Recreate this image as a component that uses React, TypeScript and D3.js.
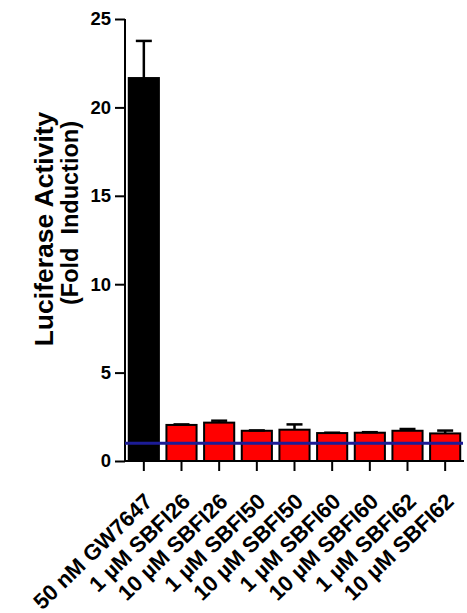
import React, { useRef, useEffect } from "react";
import * as d3 from "d3";

const categories = [
  "50 nM GW7647",
  "1 \u00b5M SBFI26",
  "10 \u00b5M SBFI26",
  "1 \u00b5M SBFI50",
  "10 \u00b5M SBFI50",
  "1 \u00b5M SBFI60",
  "10 \u00b5M SBFI60",
  "1 \u00b5M SBFI62",
  "10 \u00b5M SBFI62",
];
const means = [21.66, 2.04, 2.17, 1.71, 1.77, 1.58, 1.6, 1.71, 1.56];
const errors = [2.1, 0.03, 0.11, 0.02, 0.3, 0.02, 0.03, 0.1, 0.16];
const fills = ["#000000", "#ff0000", "#ff0000", "#ff0000", "#ff0000", "#ff0000", "#ff0000", "#ff0000", "#ff0000"];
const yTicks = [0, 5, 10, 15, 20, 25];
const baseline = 1;

export default function App() {
  const ref = useRef<SVGSVGElement>(null);

  useEffect(() => {
    const width = 467;
    const height = 613;
    const svg = d3.select(ref.current);
    svg.selectAll("*").remove();
    svg.attr("width", width).attr("height", height);

    const font = "'Liberation Sans', Arial, sans-serif";
    const x0 = 125;
    const x1 = 464;
    const y = d3.scaleLinear().domain([0, 25]).range([461, 19]);
    const x = d3
      .scaleBand<string>()
      .domain(categories)
      .range([x0, x1])
      .paddingInner(0.2)
      .paddingOuter(0.1);

    const data = categories.map((c, i) => ({ c, m: means[i], e: errors[i], f: fills[i] }));

    // bars
    svg
      .append("g")
      .selectAll("rect")
      .data(data)
      .join("rect")
      .attr("x", (d) => x(d.c)!)
      .attr("width", x.bandwidth())
      .attr("y", (d) => y(d.m))
      .attr("height", (d) => y(0) - y(d.m))
      .attr("fill", (d) => d.f)
      .attr("stroke", "#000")
      .attr("stroke-width", 2);

    // error bars (upper only)
    const err = svg.append("g").attr("stroke", "#000").attr("stroke-width", 2.5);
    err
      .selectAll("line.v")
      .data(data)
      .join("line")
      .attr("class", "v")
      .attr("x1", (d) => x(d.c)! + x.bandwidth() / 2)
      .attr("x2", (d) => x(d.c)! + x.bandwidth() / 2)
      .attr("y1", (d) => y(d.m))
      .attr("y2", (d) => y(d.m + d.e));
    err
      .selectAll("line.cap")
      .data(data)
      .join("line")
      .attr("class", "cap")
      .attr("x1", (d) => x(d.c)! + x.bandwidth() / 2 - 8)
      .attr("x2", (d) => x(d.c)! + x.bandwidth() / 2 + 8)
      .attr("y1", (d) => y(d.m + d.e))
      .attr("y2", (d) => y(d.m + d.e));

    // y axis
    const yAxis = svg
      .append("g")
      .attr("transform", `translate(${x0},0)`)
      .call(d3.axisLeft(y).tickValues(yTicks).tickSize(10).tickPadding(4));
    yAxis.select(".domain").attr("stroke-width", 2).attr("d", `M0,${y(25)}H0V${y(0)}`);
    yAxis.selectAll(".tick line").attr("stroke-width", 2);
    yAxis
      .selectAll(".tick text")
      .attr("font-family", font)
      .attr("font-weight", "bold")
      .attr("font-size", 18.5)
      .attr("fill", "#000");

    // x axis
    const xAxis = svg
      .append("g")
      .attr("transform", `translate(0,${y(0)})`)
      .call(d3.axisBottom(x).tickSize(10).tickFormat(() => ""));
    xAxis.select(".domain").attr("stroke-width", 2).attr("d", `M${x0},0H${x1}`);
    xAxis.selectAll(".tick line").attr("stroke-width", 2);

    // rotated category labels
    svg
      .append("g")
      .selectAll("text")
      .data(categories)
      .join("text")
      .attr("font-family", font)
      .attr("font-weight", "bold")
      .attr("font-size", 22)
      .attr("text-anchor", "end")
      .attr("transform", (d) => `translate(${x(d)! + x.bandwidth() / 2 + 10},${y(0) + 42}) rotate(-44)`)
      .text((d) => d);

    // baseline at fold = 1
    svg
      .append("line")
      .attr("x1", x0)
      .attr("x2", x1 - 1)
      .attr("y1", y(baseline))
      .attr("y2", y(baseline))
      .attr("stroke", "#1c1c96")
      .attr("stroke-width", 3);

    // axis title
    const title = svg
      .append("g")
      .attr("font-family", font)
      .attr("font-weight", "bold")
      .attr("text-anchor", "middle");
    title
      .append("text")
      .attr("font-size", 26.5)
      .attr("transform", `translate(53,229) rotate(-90)`)
      .text("Luciferase Activity");
    title
      .append("text")
      .attr("font-size", 23.5)
      .attr("transform", `translate(78,213) rotate(-90)`)
      .style("white-space", "pre")
      .text("(Fold  Induction)");
  }, []);

  return (
    <div style={{ margin: 0 }}>
      <svg ref={ref} style={{ position: "absolute", left: 0, top: 0, background: "#fff" }} />
    </div>
  );
}
